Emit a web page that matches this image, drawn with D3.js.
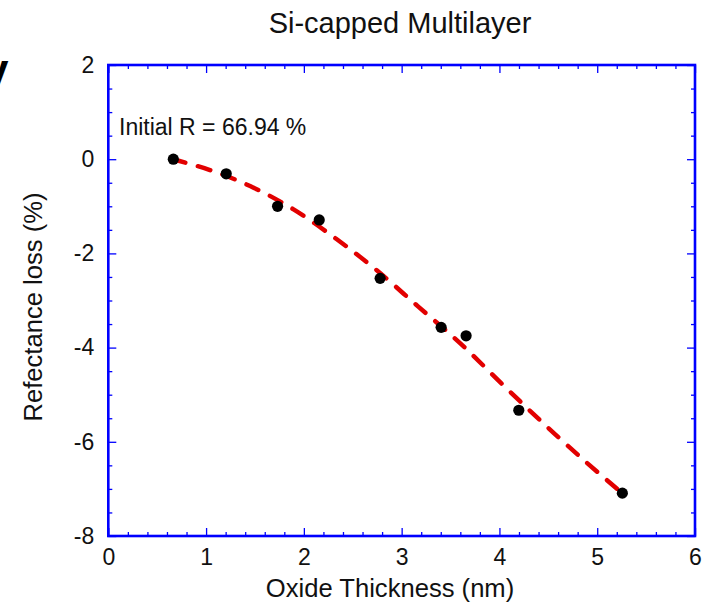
<!DOCTYPE html>
<html>
<head>
<meta charset="utf-8">
<script src="https://cdn.jsdelivr.net/npm/d3@7"></script>
<style>
  body { margin: 0; background: #fff; }
  svg { display: block; font-family: "Liberation Sans", Arial, sans-serif; }
  .axis path { display: none; }
  .axis line { stroke: #0000ff; stroke-width: 1.3; }
  .axis text { font-size: 23px; fill: #111; font-family: "Liberation Sans", Arial, sans-serif; }
</style>
</head>
<body>
<div id="chart"></div>
<script>
// measured points (oxide thickness in nm, reflectance loss in %)
var thickness = [0.665, 1.206, 1.731, 2.157, 2.78, 3.404, 3.659, 4.198, 5.257];
var loss      = [0.0, -0.31, -1.00, -1.29, -2.53, -3.57, -3.75, -5.33, -7.09];

// fitted curve
var fitX = [0.66, 1.04, 1.46, 1.89, 2.33, 2.74, 3.17, 3.60, 4.02, 4.45, 4.88, 5.25];
var fitY = [0.0, -0.23, -0.58, -1.06, -1.69, -2.35, -3.13, -3.91, -4.76, -5.61, -6.42, -7.08];

var xTicks = [0, 1, 2, 3, 4, 5, 6];
var yTicks = [-8, -6, -4, -2, 0, 2];

var width = 706, height = 603;
// plot frame edges
var frame = {left: 108.3, right: 695, top: 65, bottom: 536};

var svg = d3.select("#chart").append("svg")
    .attr("width", width)
    .attr("height", height);

var x = d3.scaleLinear().domain([0, 6]).range([frame.left, frame.right]);
var y = d3.scaleLinear().domain([-8, 2]).range([frame.bottom, frame.top]);

// plain hyphen for negatives, like the original
var plain = function(d) { return String(d); };

var xMinor = d3.range(0, 6.01, 0.2).filter(function(v) { return Math.abs(v - Math.round(v)) > 0.01; });
var yMinor = d3.range(-8, 2.01, 0.5).filter(function(v) { return Math.abs(v / 2 - Math.round(v / 2)) > 0.01; });

// bottom axis with labels
svg.append("g").attr("class", "axis")
    .attr("transform", "translate(0," + frame.bottom + ")")
    .call(d3.axisBottom(x).tickValues(xTicks).tickSize(-8).tickPadding(12.5).tickFormat(plain));
svg.append("g").attr("class", "axis")
    .attr("transform", "translate(0," + frame.bottom + ")")
    .call(d3.axisBottom(x).tickValues(xMinor).tickSize(-4).tickFormat(""));
// top mirror ticks
svg.append("g").attr("class", "axis")
    .attr("transform", "translate(0," + frame.top + ")")
    .call(d3.axisTop(x).tickValues(xTicks).tickSize(-8).tickFormat(""));
svg.append("g").attr("class", "axis")
    .attr("transform", "translate(0," + frame.top + ")")
    .call(d3.axisTop(x).tickValues(xMinor).tickSize(-4).tickFormat(""));

// left axis with labels
svg.append("g").attr("class", "axis")
    .attr("transform", "translate(" + frame.left + ",0)")
    .call(d3.axisLeft(y).tickValues(yTicks).tickSize(-8).tickPadding(14).tickFormat(plain));
svg.append("g").attr("class", "axis")
    .attr("transform", "translate(" + frame.left + ",0)")
    .call(d3.axisLeft(y).tickValues(yMinor).tickSize(-4).tickFormat(""));
// right mirror ticks
svg.append("g").attr("class", "axis")
    .attr("transform", "translate(" + frame.right + ",0)")
    .call(d3.axisRight(y).tickValues(yTicks).tickSize(-8).tickFormat(""));
svg.append("g").attr("class", "axis")
    .attr("transform", "translate(" + frame.right + ",0)")
    .call(d3.axisRight(y).tickValues(yMinor).tickSize(-4).tickFormat(""));

// frame
svg.append("rect")
    .attr("x", frame.left).attr("y", frame.top)
    .attr("width", frame.right - frame.left).attr("height", frame.bottom - frame.top)
    .attr("fill", "none")
    .attr("stroke", "#0000ff")
    .attr("stroke-width", 2.6);

// dashed fit
var fit = fitX.map(function(v, i) { return [v, fitY[i]]; });
svg.append("path")
    .datum(fit)
    .attr("fill", "none")
    .attr("stroke", "#e20000")
    .attr("stroke-width", 4.5)
    .attr("stroke-linecap", "round")
    .attr("stroke-dasharray", "13,13")
    .attr("d", d3.line()
        .x(function(d) { return x(d[0]); })
        .y(function(d) { return y(d[1]); })
        .curve(d3.curveCatmullRom));

// data points
svg.append("g")
    .selectAll("circle")
    .data(thickness)
    .enter().append("circle")
    .attr("cx", function(d) { return x(d); })
    .attr("cy", function(d, i) { return y(loss[i]); })
    .attr("r", 5.6)
    .attr("fill", "#000");

// texts
svg.append("text")
    .attr("x", 400).attr("y", 33)
    .attr("text-anchor", "middle")
    .style("font-size", "29px").style("fill", "#111")
    .text("Si-capped Multilayer");

svg.append("text")
    .attr("x", 390).attr("y", 597)
    .attr("text-anchor", "middle")
    .style("font-size", "25.6px").style("fill", "#111")
    .text("Oxide Thickness (nm)");

svg.append("text")
    .attr("transform", "translate(42," + 307 + ") rotate(-90)")
    .attr("text-anchor", "middle")
    .style("font-size", "25.6px").style("fill", "#111")
    .text("Refectance loss (%)");

svg.append("text")
    .attr("x", 119).attr("y", 135)
    .style("font-size", "23px").style("fill", "#111")
    .text("Initial R = 66.94 %");

// cropped letter at the left edge
svg.append("text")
    .attr("x", -16).attr("y", 85)
    .style("font-size", "44px").style("font-weight", "bold").style("fill", "#000")
    .text("y");
</script>
</body>
</html>
